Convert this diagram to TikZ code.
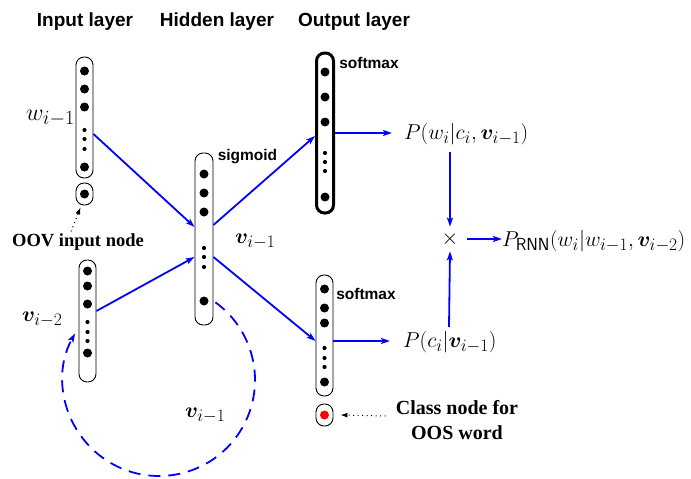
\RequirePackage{fix-cm}
\documentclass[tikz,border=0pt]{standalone}
\usepackage{amsmath,bm}
\usepackage{fontspec}
\newfontfamily\hfont{Liberation Sans}
\newfontfamily\sfont{Liberation Serif}
\DeclareMathSizes{21.5}{21.5}{17.5}{13}
\DeclareMathSizes{24}{24}{20}{16}
\usetikzlibrary{arrows.meta,calc}
\newcommand\neurons[3]{%
  \foreach \yy in {#2} \fill (#1 |- 0,-\yy) circle (4.5pt);
  \foreach \yy in {#3} \fill (#1 |- 0,-\yy) circle (2.1pt);}
\begin{document}
\begin{tikzpicture}[x=1pt,y=1pt,
  vec/.style={draw, rounded corners=8pt, minimum width=17pt, inner sep=0pt, line width=0.9pt},
  arr/.style={blue, line width=1.8pt, -{Stealth[length=9pt,width=6pt,inset=2pt]}},
  hdr/.style={font=\hfont\bfseries\fontsize{19}{22}\selectfont, inner sep=0pt},
  act/.style={font=\hfont\bfseries\fontsize{15.5}{18}\selectfont, inner sep=0pt},
  mth/.style={font=\fontsize{21.5}{25}\selectfont, inner sep=0pt},
  lbl/.style={font=\sfont\bfseries\fontsize{18.5}{25}\selectfont, inner sep=0pt, align=center},
  dotarr/.style={line width=1pt, dash pattern=on 1pt off 3.5pt, -{Latex[length=7pt,width=5pt]}}]
\useasboundingbox (0,0) rectangle (691,-479);
% headers
\node[hdr, anchor=base] (hin) at (85,-26) {Input layer};
\node[hdr, anchor=base] (hhid) at (217,-26) {Hidden layer};
\node[hdr, anchor=base] (hout) at (354,-26) {Output layer};
% vectors
\node[vec, minimum height=121pt] (in1) at (84.5,-117.5) {};
\node[vec, minimum height=22pt] (oov) at (84.5,-194) {};
\node[vec, minimum height=122pt] (in2) at (87.5,-321) {};
\node[vec, minimum height=172pt, minimum width=18pt] (hid) at (204,-239) {};
\node[vec, minimum height=160pt, line width=3pt] (out1) at (325,-133) {};
\node[vec, minimum height=121pt] (out2) at (324.5,-335.5) {};
\node[vec, minimum height=22pt] (red) at (324.5,-415) {};
\neurons{in1}{71,89,107,167}{130,139,149}
\neurons{oov}{194}{}
\neurons{in2}{271,286,304,353}{322,332,341}
\neurons{hid}{174,193,212,301}{248,257,267}
\neurons{out1}{72,97,122,197}{153,162,171}
\neurons{out2}{289,308,323,382}{348,358,367}
\fill[red] (red) circle (4.5pt);
% activation labels
\node[act] (sig) at (247.5,-157) {sigmoid};
\node[act] (sm1) at (369,-63) {softmax};
\node[act] (sm2) at (366,-294) {softmax};
% math labels
\node[font=\fontsize{24}{28}\selectfont, inner sep=0pt, anchor=base east] (wl) at (75,-120) {$w_{i-1}$};
\node[mth, anchor=base west] (v2) at (22,-321) {$\bm{v}_{i-2}$};
\node[mth, anchor=base west] (v1a) at (235,-243) {$\bm{v}_{i-1}$};
\node[mth, anchor=base west] (v1b) at (185,-417) {$\bm{v}_{i-1}$};
\node[mth, anchor=base west] (pw) at (404,-139) {$P(w_i|c_i,\bm{v}_{i-1})$};
\node[mth, anchor=base west] (pc) at (403,-347) {$P(c_i|\bm{v}_{i-1})$};
\node[mth] (x) at (450,-239) {$\times$};
\node[mth, anchor=base west] (prnn) at (502,-246) {$P_{\textsf{RNN}}(w_i|w_{i-1},\bm{v}_{i-2})$};
% text labels
\node[lbl] (oovl) at (78,-242) {OOV input node};
\node[lbl, font=\sfont\bfseries\fontsize{20}{25}\selectfont] (cls) at (457,-420) {Class node for\\OOS word};
% connectors
\draw[arr] ([yshift=-16.5pt]in1.east) -- ([yshift=12pt]hid.west);
\draw[arr] ([yshift=10pt]in2.east) -- ([yshift=-18pt]hid.west);
\draw[arr] ([yshift=14pt]hid.east) -- ([yshift=-3pt]out1.west);
\draw[arr] ([yshift=-18pt]hid.east) -- ([yshift=-5.5pt]out2.west);
\draw[arr] (out1.east) -- ([xshift=-12pt]pw.west |- out1.east);
\draw[arr] ([yshift=-5.5pt]out2.east) -- ([xshift=-13pt,yshift=-5.5pt]pc.west |- out2.east);
\draw[arr] (450,-152) coordinate (pwb) -- ([yshift=5pt]x.north);
\draw[arr] (449,-327) coordinate (pct) -- ([yshift=-5pt]x.south);
\draw[arr] ([xshift=8pt]x.east) -- (prnn.west |- x.east);
\coordinate (loopc) at (159,-380);
\draw[blue, line width=1.8pt, dash pattern=on 12pt off 8pt, -{Stealth[length=9pt,width=6pt,inset=2pt]}]
  ([shift={(54:96pt)}]loopc) arc[start angle=54, end angle=-209, radius=96pt];
\draw[dotarr] ([xshift=-7pt,yshift=2pt]oovl.north) -- ([shift={(-4pt,-2pt)}]oov.south);
\draw[dotarr] ([xshift=-10pt,yshift=4pt]cls.west) -- ([xshift=7pt]red.east);
\end{tikzpicture}
\end{document}
